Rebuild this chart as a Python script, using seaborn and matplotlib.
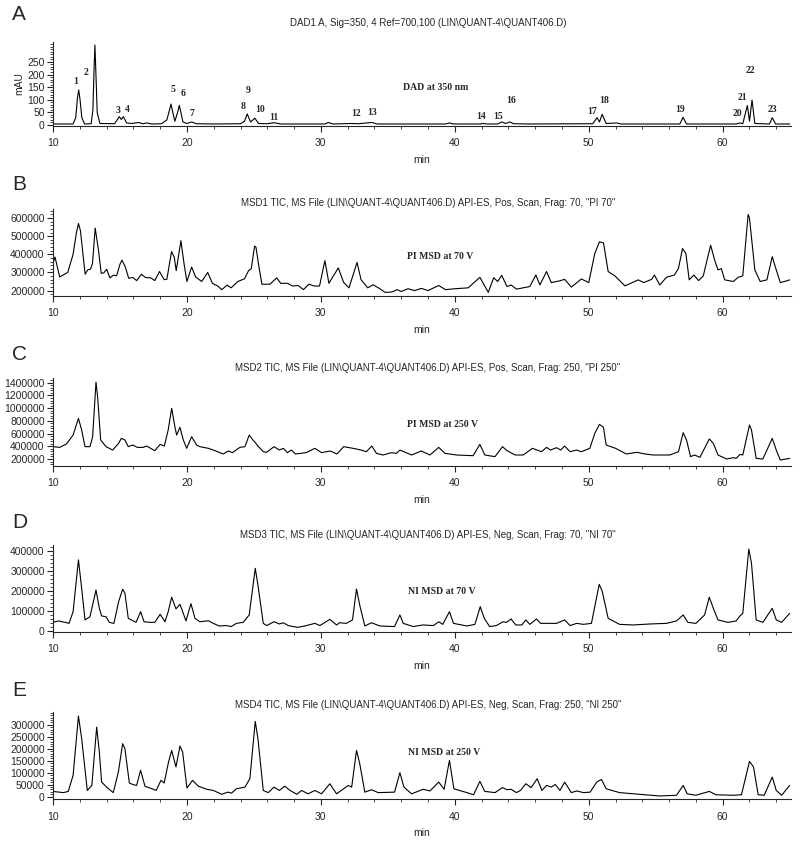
import pandas as pd
import seaborn as sns
import matplotlib.pyplot as plt
from matplotlib.ticker import FixedLocator, MultipleLocator

sns.set_style('ticks')
plt.rcParams['font.family'] = ['Liberation Sans', 'DejaVu Sans']

# A - DAD at 350 nm (mAU), traced vertices
a_t = [10.0, 11.5, 11.7, 11.82, 11.92, 12.02, 12.15, 12.35, 12.85, 12.98, 13.07, 13.13, 13.2, 13.3, 13.5,
       14.6, 14.95, 15.1, 15.25, 15.5, 15.9, 16.4, 16.7, 17.0, 17.4, 18.1, 18.5, 18.7, 18.81, 18.92,
       19.1, 19.33, 19.43, 19.55, 19.7, 20.0, 20.35, 20.7, 22.0, 24.0, 24.3, 24.5, 24.75, 25.07, 25.35,
       26.0, 26.5, 27.0, 30.3, 30.55, 30.9, 32.3, 32.8, 33.8, 34.2, 39.3, 39.6, 39.9, 41.9, 42.1,
       42.4, 43.2, 43.5, 43.8, 44.1, 44.4, 45.5, 50.3, 50.62, 50.8, 51.0, 51.3, 52.1, 52.4, 56.8,
       57.04, 57.3, 61.0, 61.3, 61.5, 61.84, 62.0, 62.19, 62.4, 63.5, 63.7, 63.95, 65.0]
a_y = [4, 4, 30, 105, 139, 100, 30, 4, 5, 60, 230, 317, 210, 50, 6,
       5, 33, 22, 33, 8, 6, 10, 5, 8, 4, 5, 20, 60, 83, 55,
       15, 55, 78, 50, 12, 6, 12, 5, 4, 5, 15, 44, 12, 27, 6,
       5, 9, 4, 4, 10, 4, 6, 5, 10, 4, 4, 8, 4, 4, 6,
       4, 4, 12, 6, 12, 5, 4, 5, 29, 12, 42, 6, 8, 4, 4,
       31, 4, 4, 8, 5, 77, 15, 99, 6, 4, 29, 4, 4]

# B - PI MSD at 70 V
b_t = [10.0, 10.15, 10.5, 11.1, 11.5, 11.75, 11.9, 12.05, 12.15, 12.4, 12.6, 12.8, 12.95, 13.15, 13.4,
       13.6, 13.8, 14.0, 14.25, 14.5, 14.75, 15.0, 15.15, 15.4, 15.65, 15.95, 16.25, 16.6, 16.9, 17.3,
       17.6, 17.95, 18.3, 18.5, 18.85, 19.05, 19.2, 19.55, 19.8, 20.0, 20.35, 20.65, 21.1, 21.55, 21.9,
       22.3, 22.6, 23.0, 23.3, 23.8, 24.3, 24.6, 24.8, 25.05, 25.15, 25.4, 25.6, 26.2, 26.7, 27.0,
       27.5, 27.9, 28.3, 28.7, 29.1, 29.5, 29.9, 30.3, 30.6, 31.3, 31.7, 32.1, 32.7, 33.0, 33.5,
       33.9, 34.4, 34.8, 35.3, 35.7, 36.0, 36.5, 37.0, 37.5, 38.0, 38.8, 39.3, 40.0, 41.0, 41.87,
       42.5, 42.9, 43.2, 43.5, 43.9, 44.2, 44.6, 45.6, 46.05, 46.35, 46.85, 47.2, 47.8, 48.2, 48.7,
       49.45, 50.0, 50.45, 50.8, 51.1, 51.45, 51.95, 52.7, 53.7, 54.1, 54.7, 54.9, 55.3, 55.8, 56.4,
       56.7, 57.0, 57.25, 57.5, 57.85, 58.2, 58.55, 59.1, 59.4, 59.65, 59.9, 60.15, 60.8, 61.15, 61.5,
       61.9, 62.0, 62.4, 62.8, 63.3, 63.7, 64.0, 64.3, 64.75, 65.0]
b_y = [350000, 385000, 275000, 300000, 400000, 520000, 570000, 530000, 460000, 290000, 315000, 318000, 350000, 545000, 420000,
       295000, 298000, 318000, 270000, 285000, 282000, 345000, 368000, 330000, 268000, 272000, 255000, 290000, 272000, 270000,
       255000, 305000, 260000, 262000, 415000, 385000, 310000, 475000, 340000, 250000, 330000, 275000, 250000, 300000, 240000,
       225000, 205000, 230000, 215000, 250000, 265000, 310000, 320000, 445000, 440000, 320000, 235000, 235000, 270000, 240000,
       240000, 225000, 228000, 205000, 235000, 225000, 225000, 365000, 240000, 325000, 245000, 215000, 355000, 260000, 215000,
       232000, 210000, 190000, 192000, 205000, 195000, 210000, 200000, 212000, 200000, 228000, 205000, 210000, 215000, 273000,
       190000, 271000, 250000, 284000, 222000, 231000, 208000, 222000, 286000, 231000, 305000, 244000, 253000, 262000, 219000,
       264000, 244000, 405000, 469000, 463000, 305000, 281000, 226000, 259000, 244000, 262000, 286000, 231000, 273000, 286000,
       323000, 432000, 405000, 259000, 286000, 255000, 281000, 450000, 368000, 314000, 321000, 259000, 250000, 273000, 281000,
       620000, 600000, 314000, 250000, 259000, 387000, 314000, 244000, 253000, 259000]

# C - PI MSD at 250 V
c_t = [10.0, 10.5, 11.0, 11.5, 11.9, 12.14, 12.39, 12.76, 12.96, 13.21, 13.33, 13.56, 13.96, 14.45, 14.9,
       15.1, 15.37, 15.62, 15.95, 16.3, 16.74, 16.99, 17.6, 18.0, 18.31, 18.6, 18.86, 19.1, 19.23, 19.48,
       19.73, 19.98, 20.35, 20.72, 20.97, 21.6, 21.97, 22.46, 22.7, 23.1, 23.4, 23.95, 24.33, 24.65, 24.83,
       25.15, 25.3, 25.7, 25.95, 26.5, 26.9, 27.2, 27.5, 27.8, 28.1, 28.9, 29.55, 30.05, 30.7, 31.2,
       31.7, 32.4, 33.0, 33.4, 33.8, 34.15, 34.65, 35.27, 35.65, 35.9, 36.77, 37.5, 38.14, 38.8, 39.26,
       40.13, 41.37, 41.87, 42.24, 43.0, 43.56, 43.9, 44.5, 45.1, 45.8, 46.47, 46.85, 47.14, 47.6, 47.9,
       48.2, 48.6, 49.1, 49.45, 50.08, 50.45, 50.8, 51.1, 51.3, 52.0, 52.8, 53.6, 54.2, 54.8, 56.05,
       56.7, 57.05, 57.3, 57.6, 57.9, 58.3, 59.0, 59.3, 59.65, 60.3, 60.8, 61.0, 61.3, 61.5, 62.0,
       62.15, 62.5, 63.0, 63.7, 64.0, 64.3, 65.0]
c_y = [394000, 383000, 436000, 577000, 839000, 656000, 394000, 394000, 551000, 1410000, 1180000, 499000, 394000, 341000, 446000,
       525000, 499000, 394000, 420000, 383000, 383000, 404000, 331000, 430000, 404000, 656000, 996000, 708000, 577000, 698000,
       499000, 368000, 551000, 420000, 394000, 368000, 341000, 300000, 279000, 326000, 300000, 383000, 394000, 577000, 525000,
       446000, 404000, 315000, 305000, 394000, 341000, 368000, 300000, 341000, 279000, 300000, 368000, 300000, 326000, 279000,
       394000, 368000, 341000, 315000, 404000, 289000, 263000, 300000, 289000, 341000, 263000, 326000, 263000, 383000, 289000,
       263000, 252000, 430000, 263000, 237000, 394000, 331000, 263000, 263000, 368000, 315000, 383000, 341000, 378000, 341000,
       404000, 315000, 341000, 315000, 368000, 603000, 745000, 698000, 420000, 368000, 279000, 305000, 279000, 263000, 263000,
       315000, 614000, 499000, 237000, 263000, 226000, 515000, 446000, 263000, 200000, 221000, 210000, 273000, 263000, 734000,
       656000, 210000, 200000, 525000, 341000, 184000, 210000]

# D - NI MSD at 70 V
d_t = [10.0, 10.4, 10.9, 11.2, 11.5, 11.9, 12.14, 12.39, 12.76, 13.21, 13.46, 13.63, 13.96, 14.2, 14.55,
       14.9, 15.2, 15.37, 15.62, 16.0, 16.2, 16.54, 16.8, 17.24, 17.6, 18.0, 18.36, 18.6, 18.86, 19.18,
       19.48, 19.68, 19.93, 20.3, 20.6, 20.97, 21.6, 21.97, 22.4, 22.96, 23.3, 23.7, 24.2, 24.65, 25.1,
       25.3, 25.7, 25.95, 26.5, 26.9, 27.2, 27.56, 28.26, 28.8, 29.55, 29.93, 30.67, 31.17, 31.4, 31.9,
       32.36, 32.66, 32.9, 33.28, 33.78, 34.4, 35.5, 35.9, 36.15, 36.9, 37.6, 38.4, 38.8, 39.1, 39.6,
       39.9, 40.9, 41.5, 41.9, 42.2, 42.6, 43.1, 43.6, 43.86, 44.2, 44.55, 45.0, 45.3, 45.6, 46.1,
       46.4, 47.0, 47.6, 48.2, 48.6, 49.1, 49.6, 50.2, 50.78, 51.0, 51.45, 52.3, 53.3, 54.6, 55.8,
       56.55, 57.05, 57.4, 58.0, 58.65, 59.0, 59.3, 59.65, 60.4, 61.0, 61.3, 61.5, 61.95, 62.15, 62.5,
       63.0, 63.7, 64.0, 64.4, 65.0]
d_y = [43000, 50000, 43000, 38000, 96000, 354000, 212000, 55000, 71000, 204000, 113000, 75000, 71000, 43000, 38000,
       146000, 208000, 188000, 63000, 50000, 43000, 96000, 46000, 43000, 43000, 83000, 46000, 96000, 168000, 110000,
       133000, 96000, 50000, 136000, 63000, 46000, 51000, 38000, 25000, 27000, 22000, 38000, 43000, 80000, 312000,
       229000, 38000, 27000, 46000, 35000, 41000, 27000, 18000, 25000, 38000, 27000, 58000, 30000, 41000, 38000,
       55000, 209000, 129000, 25000, 41000, 25000, 22000, 80000, 38000, 22000, 30000, 27000, 46000, 33000, 96000,
       38000, 25000, 33000, 121000, 63000, 22000, 27000, 46000, 43000, 60000, 30000, 30000, 55000, 33000, 60000,
       38000, 38000, 38000, 55000, 27000, 38000, 33000, 38000, 232000, 199000, 63000, 33000, 30000, 35000, 38000,
       50000, 80000, 43000, 38000, 80000, 168000, 113000, 55000, 43000, 50000, 76000, 88000, 408000, 337000, 55000,
       43000, 113000, 55000, 43000, 88000]

# E - NI MSD at 250 V
e_t = [10.0, 10.77, 11.14, 11.5, 11.9, 12.14, 12.56, 12.9, 13.26, 13.46, 13.63, 14.0, 14.5, 14.88, 15.2,
       15.37, 15.7, 16.0, 16.24, 16.54, 16.87, 17.5, 17.7, 18.06, 18.3, 18.6, 18.86, 19.18, 19.48, 19.68,
       20.0, 20.42, 20.85, 21.47, 21.97, 22.6, 23.04, 23.33, 23.7, 24.33, 24.7, 25.1, 25.3, 25.7, 26.07,
       26.5, 26.9, 27.3, 27.7, 28.2, 28.56, 29.05, 29.55, 30.05, 30.67, 31.17, 31.7, 32.04, 32.3, 32.66,
       32.9, 33.28, 33.78, 34.28, 35.5, 35.9, 36.2, 36.77, 37.64, 38.14, 38.8, 39.2, 39.6, 39.93, 40.9,
       41.4, 41.87, 42.24, 43.0, 43.56, 43.9, 44.2, 44.6, 44.9, 45.3, 45.7, 46.15, 46.5, 46.85, 47.2,
       47.5, 47.85, 48.2, 48.7, 49.1, 49.6, 50.1, 50.6, 50.95, 51.3, 52.3, 53.8, 55.3, 56.55, 57.05,
       57.35, 58.0, 59.0, 59.5, 60.8, 61.4, 62.0, 62.3, 62.65, 63.1, 63.7, 64.0, 64.4, 65.0]
e_y = [22000, 17000, 22000, 89000, 336000, 242000, 26000, 47000, 290000, 186000, 61000, 40000, 17000, 103000, 221000,
       200000, 57000, 50000, 47000, 110000, 43000, 31000, 26000, 68000, 57000, 138000, 193000, 124000, 211000, 186000,
       36000, 68000, 44000, 31000, 26000, 10000, 19000, 15000, 33000, 40000, 75000, 314000, 242000, 26000, 17000,
       40000, 26000, 44000, 26000, 10000, 26000, 12000, 26000, 12000, 54000, 12000, 33000, 47000, 40000, 193000,
       138000, 19000, 29000, 17000, 19000, 100000, 40000, 12000, 31000, 24000, 61000, 31000, 151000, 33000, 17000,
       8000, 64000, 22000, 17000, 38000, 29000, 31000, 17000, 26000, 54000, 38000, 75000, 26000, 47000, 40000,
       51000, 26000, 61000, 17000, 24000, 17000, 19000, 61000, 72000, 33000, 17000, 10000, 3000, 6000, 47000,
       12000, 6000, 22000, 8000, 6000, 8000, 147000, 124000, 8000, 6000, 82000, 26000, 6000, 47000]

# peak numbers on the DAD trace (label anchors)
pk_num = [str(i) for i in range(1, 24)]
pk_t = [11.7, 12.46, 14.87, 15.57, 18.93, 19.73, 20.37, 24.2, 24.58, 25.45, 26.5, 32.66, 33.86,
        41.99, 43.23, 44.18, 50.25, 51.14, 56.79, 61.09, 61.51, 62.09, 63.68]
pk_y = [172, 207, 57, 63, 142, 126, 44, 73, 136, 60, 30, 45, 48,
        33, 35, 99, 53, 99, 63, 46, 108, 215, 62]

panels = [
    dict(letter='A', title='DAD1 A, Sig=350, 4 Ref=700,100 (LIN\\QUANT-4\\QUANT406.D)',
         t=a_t, y=a_y, ylim=(-4, 329), major=[0, 50, 100, 150, 200, 250], minor=10,
         note='DAD at 350 nm', note_xy=(36.1, 147), top=42, bot=126, lab_y=15, tit_y=23, ylabel='mAU'),
    dict(letter='B', title='MSD1 TIC, MS File (LIN\\QUANT-4\\QUANT406.D) API-ES, Pos, Scan, Frag: 70, "PI 70"',
         t=b_t, y=b_y, ylim=(170000, 650000), major=[200000, 300000, 400000, 500000, 600000], minor=20000,
         note='PI MSD at 70 V', note_xy=(36.4, 390000), top=209, bot=296, lab_y=185, tit_y=203, ylabel=''),
    dict(letter='C', title='MSD2 TIC, MS File (LIN\\QUANT-4\\QUANT406.D) API-ES, Pos, Scan, Frag: 250, "PI 250"',
         t=c_t, y=c_y, ylim=(90000, 1474000), major=[200000, 400000, 600000, 800000, 1000000, 1200000, 1400000],
         minor=40000, note='PI MSD at 250 V', note_xy=(36.4, 750000), top=378, bot=466, lab_y=355, tit_y=368,
         ylabel=''),
    dict(letter='D', title='MSD3 TIC, MS File (LIN\\QUANT-4\\QUANT406.D) API-ES, Neg, Scan, Frag: 70, "NI 70"',
         t=d_t, y=d_y, ylim=(-5000, 428000), major=[0, 100000, 200000, 300000, 400000], minor=20000,
         note='NI MSD at 70 V', note_xy=(36.5, 199000), top=545, bot=632, lab_y=523, tit_y=535, ylabel=''),
    dict(letter='E', title='MSD4 TIC, MS File (LIN\\QUANT-4\\QUANT406.D) API-ES, Neg, Scan, Frag: 250, "NI 250"',
         t=e_t, y=e_y, ylim=(-9600, 353000), major=[0, 50000, 100000, 150000, 200000, 250000, 300000],
         minor=10000, note='NI MSD at 250 V', note_xy=(36.5, 183000), top=712, bot=799, lab_y=690, tit_y=705,
         ylabel=''),
]

W, H = 800, 843
fig = plt.figure(figsize=(8, 8.43), dpi=100)
serif_bold = dict(family=['Liberation Serif', 'DejaVu Serif'], weight='bold', fontsize=7)

for p in panels:
    ax = fig.add_axes([53 / W, 1 - p['bot'] / H, (791 - 53) / W, (p['bot'] - p['top']) / H])
    df = pd.DataFrame({'min': p['t'], 'signal': p['y']})
    sns.lineplot(data=df, x='min', y='signal', ax=ax, color='black', linewidth=0.8)

    ax.set_xlim(10, 65.1)
    ax.set_ylim(*p['ylim'])
    ax.xaxis.set_major_locator(FixedLocator([10, 20, 30, 40, 50, 60]))
    ax.xaxis.set_minor_locator(MultipleLocator(2))
    ax.yaxis.set_major_locator(FixedLocator(p['major']))
    ax.yaxis.set_minor_locator(MultipleLocator(p['minor']))
    ax.set_yticklabels([str(v) for v in p['major']])
    ax.tick_params(axis='both', which='major', length=4, width=0.8, labelsize=7.5, pad=2)
    ax.tick_params(axis='both', which='minor', length=2, width=0.6)
    ax.tick_params(axis='x', which='major', pad=5)
    sns.despine(ax=ax)
    for s in ['left', 'bottom']:
        ax.spines[s].set_linewidth(0.8)
    ax.set_xlabel('min', fontsize=7.5, labelpad=5)
    ax.set_ylabel(p['ylabel'], fontsize=7.5, labelpad=2)

    ax.text(p['note_xy'][0], p['note_xy'][1], p['note'], ha='left', va='center', **serif_bold)
    fig.text(12 / W, 1 - p['lab_y'] / H, p['letter'], fontsize=15, ha='left', va='center')
    fig.text(428 / W, 1 - p['tit_y'] / H, p['title'], fontsize=7, ha='center', va='center')

    if p['letter'] == 'A':
        for n, x, y in zip(pk_num, pk_t, pk_y):
            ax.text(x, y, n, ha='center', va='center', **serif_bold)

fig.savefig('out.png', dpi=100)
